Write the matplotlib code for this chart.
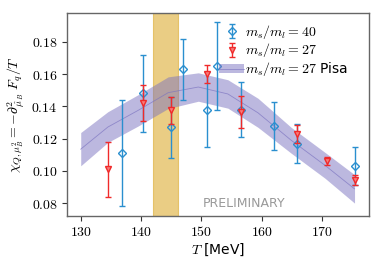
import numpy as np
import matplotlib
matplotlib.use("Agg")
import matplotlib.pyplot as plt
from matplotlib.ticker import FuncFormatter
from matplotlib.patches import Patch
from matplotlib.lines import Line2D

plt.rcParams['mathtext.fontset'] = 'cm'
plt.rcParams['font.family'] = ['DejaVu Sans']

# ms/ml = 40 (blue)
T40 = [136.8, 140.4, 144.9, 147.0, 150.9, 152.6, 156.6, 162.1, 165.8, 175.5]
chi40 = [0.111, 0.148, 0.127, 0.163, 0.138, 0.165, 0.138, 0.128, 0.117, 0.103]
err40 = [0.033, 0.024, 0.019, 0.019, 0.023, 0.027, 0.017, 0.015, 0.012, 0.012]

# ms/ml = 27 (red)
T27 = [134.6, 140.4, 144.9, 150.9, 156.6, 165.8, 170.8, 175.5]
chi27 = [0.101, 0.142, 0.1375, 0.160, 0.1365, 0.123, 0.106, 0.0944]
err27 = [0.017, 0.011, 0.0083, 0.0055, 0.010, 0.0054, 0.0026, 0.0031]

# Pisa band
Tpisa = [130.0, 134.5, 139.5, 144.5, 149.5, 154.4, 159.4, 164.9, 170.5, 175.4]
chipisa = [0.1135, 0.1272, 0.1375, 0.1485, 0.152, 0.1477, 0.1360, 0.1190, 0.1035, 0.0889]
errpisa = [0.0103, 0.0095, 0.0097, 0.0098, 0.0088, 0.0088, 0.0090, 0.0080, 0.0080, 0.0088]

# Tc band
tc_lo, tc_hi = 142.0, 146.1

fig = plt.figure(figsize=(3.82, 2.67), dpi=100)
ax = fig.add_axes([0.175, 0.191, 0.791, 0.760])

ax.axvspan(tc_lo, tc_hi, color='#daa520', alpha=0.55, lw=0.8, zorder=1)

Tp = np.array(Tpisa); cp = np.array(chipisa); ep = np.array(errpisa)
ax.fill_between(Tp, cp - ep, cp + ep, color='#7b73c0', alpha=0.5, lw=0, zorder=2)
ax.plot(Tp, cp, color='#7b73c0', lw=0.6, alpha=0.7, zorder=2)

blue = '#2a8fcf'
red = '#f02a2a'
h40 = ax.errorbar(T40, chi40, yerr=err40, fmt='D', ms=4, mfc='none', mec=blue, mew=1.0,
                  color=blue, ecolor=blue, elinewidth=1.0, capsize=2.5, capthick=1.0, zorder=4)
h27 = ax.errorbar(T27, chi27, yerr=err27, fmt='v', ms=4, mfc='#f77b7b', mec=red, mew=1.0,
                  color=red, ecolor=red, elinewidth=1.0, capsize=2.5, capthick=1.0, zorder=5)

ax.text(157.0, 0.0800, 'PRELIMINARY', color='#999999', fontsize=9, ha='center', va='center')

ax.set_xlim(127.7, 177.8)
ax.set_ylim(0.0721, 0.1978)
ax.set_xticks([130, 140, 150, 160, 170])
ax.set_yticks([0.08, 0.10, 0.12, 0.14, 0.16, 0.18])
ax.xaxis.set_major_formatter(FuncFormatter(lambda v, p: r'$%d$' % v))
ax.yaxis.set_major_formatter(FuncFormatter(lambda v, p: r'$%.2f$' % v))
ax.tick_params(labelsize=10, length=3.5, width=0.8, color='#333333', direction='out', pad=3)
for s in ax.spines.values():
    s.set_color('#666666')
    s.set_linewidth(1.0)

ax.set_xlabel(r'$T$ [MeV]', fontsize=10, labelpad=2)
ax.set_ylabel(r'$\chi_{Q,\mu_B^2} = -\partial^2_{\hat{\mu}_B}\ F_q/T$', fontsize=10, labelpad=3)

pisa_handle = (Patch(facecolor='#7b73c0', alpha=0.5, lw=0),
               Line2D([], [], color='#7b73c0', lw=0.6, alpha=0.7))
ax.legend([h40, h27, pisa_handle],
          [r'$m_s/m_l = 40$', r'$m_s/m_l = 27$', r'$m_s/m_l = 27$ Pisa'],
          loc='upper right', bbox_to_anchor=(0.965, 1.0), frameon=False, fontsize=10,
          handlelength=1.8, handleheight=0.6, handletextpad=0.1, labelspacing=0.05,
          borderaxespad=0.3)

fig.savefig('out.png', dpi=100)
